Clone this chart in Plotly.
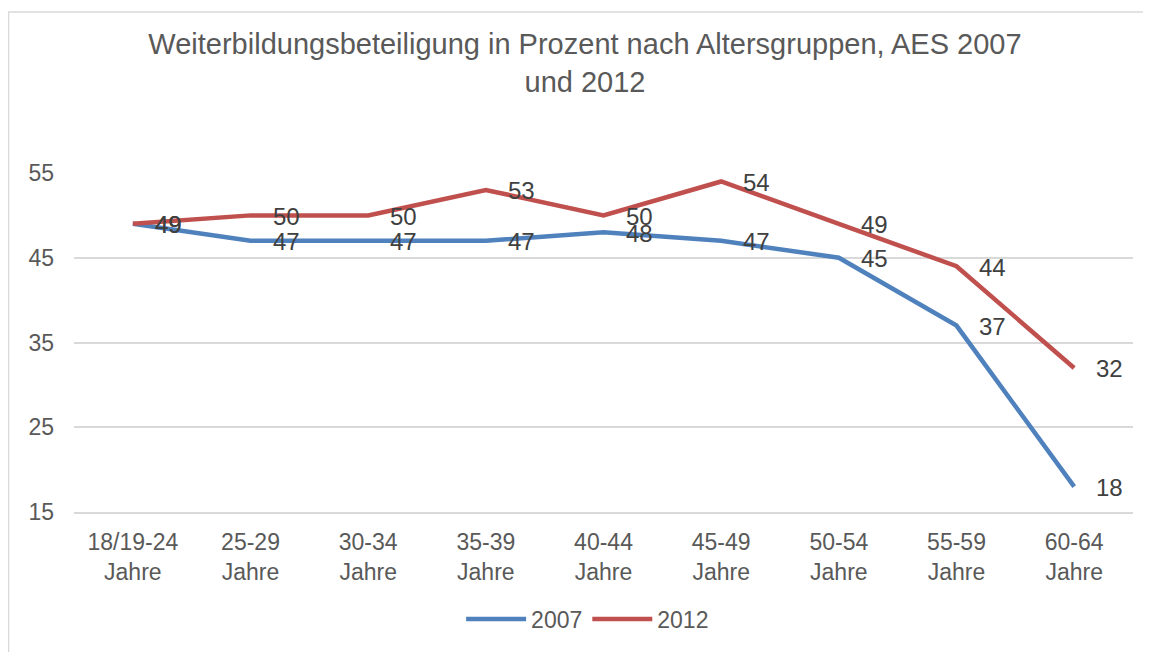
import plotly.graph_objects as go

categories = ["18/19-24<br>Jahre", "25-29<br>Jahre", "30-34<br>Jahre", "35-39<br>Jahre",
              "40-44<br>Jahre", "45-49<br>Jahre", "50-54<br>Jahre", "55-59<br>Jahre", "60-64<br>Jahre"]
values_2007 = [49, 47, 47, 47, 48, 47, 45, 37, 18]
values_2012 = [49, 50, 50, 53, 50, 54, 49, 44, 32]
y_ticks = [15, 25, 35, 45, 55]

blue = "#4F81BD"
red = "#C0504D"
font_family = "Liberation Sans, Arial, sans-serif"

# page is rendered with an 8px body margin, so the figure is sized/offset accordingly
W, H = 1143, 644
ML, MR, MT, MB = 66, 18, 165, 137
PW, PH = W - ML - MR, H - MT - MB

fig = go.Figure()
fig.add_trace(go.Scatter(x=categories, y=values_2007, mode="lines", name="2007",
                         line=dict(color=blue, width=4.5)))
fig.add_trace(go.Scatter(x=categories, y=values_2012, mode="lines", name="2012",
                         line=dict(color=red, width=4.5)))

annotations = []
for series in (values_2007, values_2012):
    for c, v in zip(categories, series):
        annotations.append(dict(x=c, y=v, xref="x", yref="y", text=str(v), showarrow=False,
                                xanchor="left", yanchor="middle", xshift=20, yshift=-1,
                                font=dict(size=24, color="#404040", family=font_family)))

fig.update_layout(
    width=W, height=H,
    margin=dict(l=ML, r=MR, t=MT, b=MB),
    paper_bgcolor="white", plot_bgcolor="white",
    font=dict(family=font_family, color="#595959", size=23),
    title=dict(text="Weiterbildungsbeteiligung in Prozent nach Altersgruppen, AES 2007<br>und 2012",
               x=577 / W, xanchor="center", y=1 - 46 / H, yanchor="middle",
               font=dict(size=29, color="#595959", family=font_family)),
    showlegend=True,
    legend=dict(orientation="h", x=0.485, xanchor="center", y=-0.316, yanchor="middle",
                font=dict(size=23, color="#595959"), itemwidth=60, tracegroupgap=0),
    annotations=annotations,
    shapes=[dict(type="rect", xref="paper", yref="paper",
                 x0=(0.5 - ML) / PW, x1=1.1, y0=-1, y1=1 + (MT - 2.5) / PH,
                 line=dict(color="#D9D9D9", width=1.5), fillcolor="rgba(0,0,0,0)", layer="below")],
)
fig.update_xaxes(showgrid=False, showline=True, linecolor="#D9D9D9", linewidth=1.5,
                 ticks="", ticklabelstandoff=9, tickfont=dict(size=23, color="#595959"),
                 range=[-0.5, 8.5])
fig.update_yaxes(range=[15, 55], tickvals=y_ticks, showgrid=True, gridcolor="#D9D9D9", gridwidth=1.5,
                 zeroline=False, showline=False, ticks="", ticklabelstandoff=19,
                 tickfont=dict(size=23, color="#595959"))

fig.write_html("out.html")
